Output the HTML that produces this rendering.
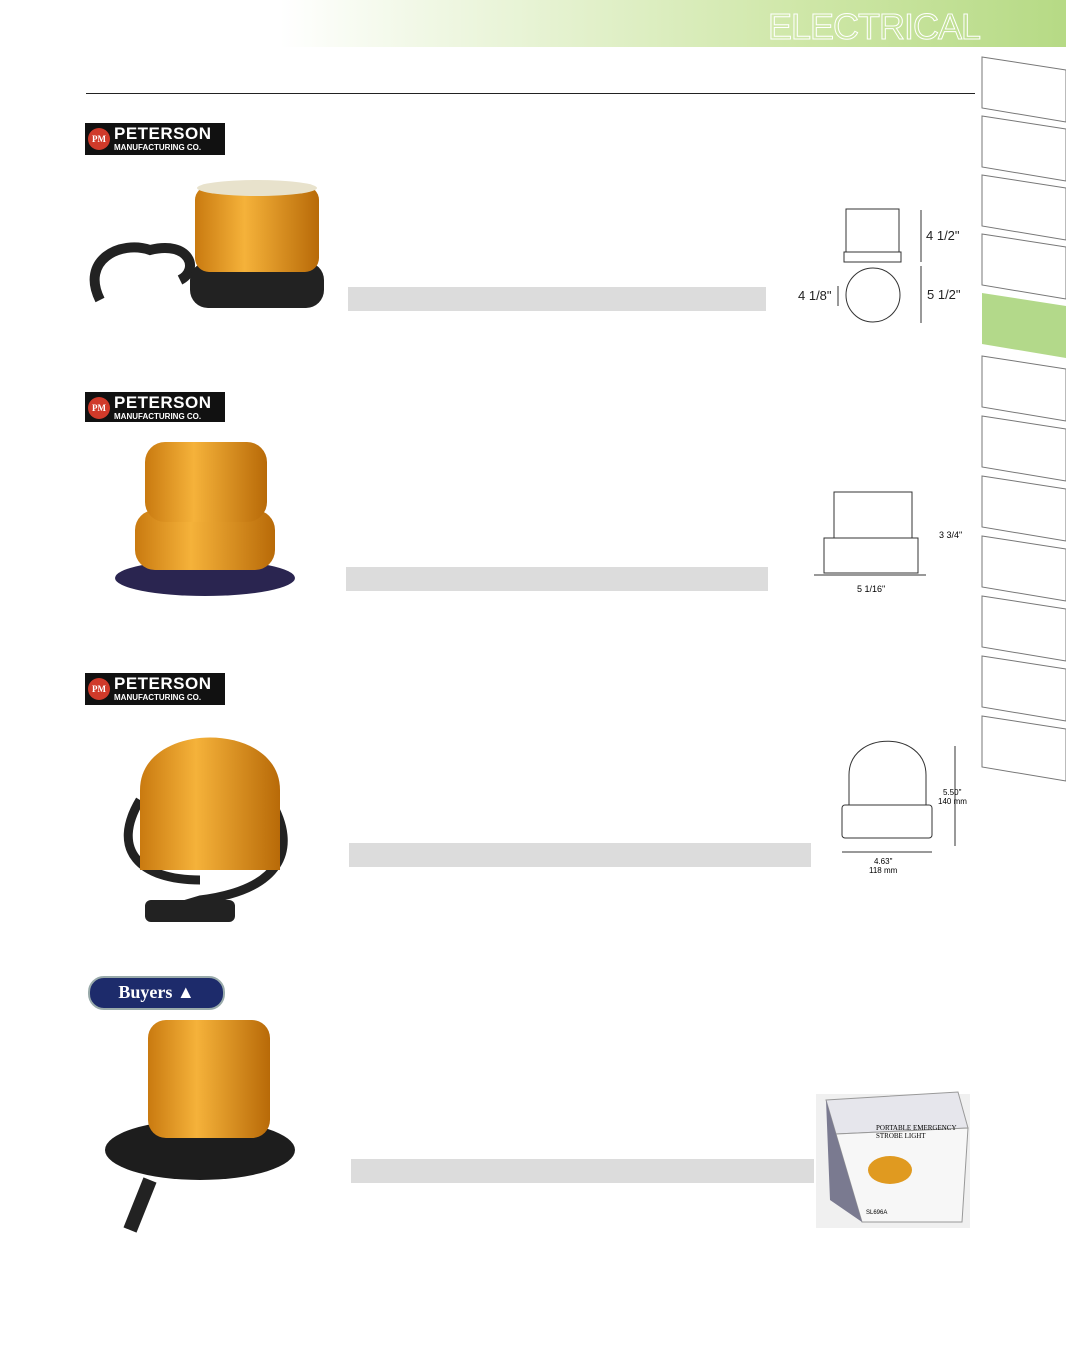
<!DOCTYPE html>
<html><head><meta charset="utf-8"><style>
html,body{margin:0;padding:0;background:#fff}
body{width:1066px;height:1366px;position:relative;overflow:hidden;font-family:"Liberation Sans",sans-serif}
.abs{position:absolute}
.bar{position:absolute;background:#dcdcdc;height:24px}
.logo{position:absolute;background:#111;width:140px;height:32px;color:#fff}
.logo .pm{position:absolute;left:3px;top:5px;width:22px;height:22px;border-radius:50%;background:#d03a2a;font:bold 9px "Liberation Serif",serif;line-height:22px;text-align:center;color:#fff}
.logo .t1{position:absolute;left:29px;top:1px;font:bold 17px "Liberation Sans",sans-serif;letter-spacing:.5px}
.logo .t2{position:absolute;left:29px;top:20px;font:bold 8px "Liberation Sans",sans-serif}
</style></head><body>
<div class="abs" style="left:0;top:0;width:1066px;height:47px;background:linear-gradient(90deg,#fff 0,#fff 280px,#f1f8e6 420px,#cfe7a8 800px,#b6da85 1066px)"></div>
<div class="abs" style="left:768px;top:6px;font:36px 'Liberation Sans',sans-serif;color:transparent;-webkit-text-stroke:1px #fff;letter-spacing:-1px">ELECTRICAL</div>
<div class="abs" style="left:86px;top:93px;width:889px;height:1px;background:#222"></div>
<svg class="abs" style="left:0;top:0" width="1066" height="1366">
<g fill="#fff" stroke="#777" stroke-width="1">
<polygon points="982,57 1066,70 1066,122 982,108"/>
<polygon points="982,116 1066,129 1066,181 982,167"/>
<polygon points="982,175 1066,188 1066,240 982,226"/>
<polygon points="982,234 1066,247 1066,299 982,285"/>
<polygon points="982,293 1066,306 1066,358 982,344" fill="#b3d98a" stroke="none"/>
<polygon points="982,356 1066,369 1066,421 982,407"/>
<polygon points="982,416 1066,429 1066,481 982,467"/>
<polygon points="982,476 1066,489 1066,541 982,527"/>
<polygon points="982,536 1066,549 1066,601 982,587"/>
<polygon points="982,596 1066,609 1066,661 982,647"/>
<polygon points="982,656 1066,669 1066,721 982,707"/>
<polygon points="982,716 1066,729 1066,781 982,767"/>
</g>
<defs>
<linearGradient id="am" x1="0" x2="1"><stop offset="0" stop-color="#c97a10"/><stop offset=".4" stop-color="#f5b23a"/><stop offset="1" stop-color="#b86a08"/></linearGradient>
</defs>
<!-- lamp 1 -->
<path d="M100,300 C80,260 120,240 150,250 C190,240 200,270 180,280" fill="none" stroke="#222" stroke-width="10"/>
<rect x="190" y="262" width="134" height="46" rx="18" fill="#222"/>
<rect x="195" y="186" width="124" height="86" rx="14" fill="url(#am)"/>
<ellipse cx="257" cy="188" rx="60" ry="8" fill="#e8e2cc"/>
<!-- lamp 2 -->
<ellipse cx="205" cy="578" rx="90" ry="18" fill="#2a2550"/>
<rect x="135" y="510" width="140" height="60" rx="20" fill="url(#am)"/>
<rect x="145" y="442" width="122" height="80" rx="20" fill="url(#am)"/>
<!-- lamp 3 -->
<path d="M140,800 C110,850 140,880 200,880 M270,800 C300,850 280,890 200,900 L150,915" fill="none" stroke="#222" stroke-width="9"/>
<path d="M140,870 L140,790 C140,720 280,720 280,790 L280,870 Z" fill="url(#am)"/>
<rect x="145" y="900" width="90" height="22" rx="6" fill="#222"/>
<!-- lamp 4 -->
<ellipse cx="200" cy="1150" rx="95" ry="30" fill="#1d1d1d"/>
<path d="M150,1180 L130,1230" stroke="#222" stroke-width="14"/>
<rect x="148" y="1020" width="122" height="118" rx="18" fill="url(#am)"/>
<!-- diagram 1 -->
<g stroke="#333" fill="none" stroke-width="1">
<rect x="846" y="209" width="53" height="43"/><rect x="844" y="252" width="57" height="10"/>
<circle cx="873" cy="295" r="27"/>
<line x1="921" y1="210" x2="921" y2="262"/><line x1="921" y1="266" x2="921" y2="323"/>
<line x1="838" y1="286" x2="838" y2="306"/>
</g>
<g font-family="Liberation Sans" font-size="13" fill="#222">
<text x="926" y="240">4 1/2"</text><text x="927" y="299">5 1/2"</text><text x="798" y="300">4 1/8"</text>
</g>
<!-- diagram 2 -->
<g stroke="#333" fill="none">
<rect x="834" y="492" width="78" height="46"/><rect x="824" y="538" width="94" height="35"/>
<line x1="814" y1="575" x2="926" y2="575"/>
</g>
<text x="939" y="538" font-size="9" font-family="Liberation Sans">3 3/4"</text>
<text x="857" y="592" font-size="9" font-family="Liberation Sans">5 1/16"</text>
<!-- diagram 3 -->
<g stroke="#333" fill="none">
<path d="M849,805 L849,775 C849,730 926,730 926,775 L926,805 Z"/>
<rect x="842" y="805" width="90" height="33" rx="3"/>
<line x1="955" y1="746" x2="955" y2="846"/><line x1="842" y1="852" x2="932" y2="852"/>
</g>
<text x="943" y="795" font-size="8" font-family="Liberation Sans">5.50"</text>
<text x="938" y="804" font-size="8" font-family="Liberation Sans">140 mm</text>
<text x="874" y="864" font-size="8" font-family="Liberation Sans">4.63"</text>
<text x="869" y="873" font-size="8" font-family="Liberation Sans">118 mm</text>
<!-- box -->
<rect x="816" y="1094" width="154" height="134" fill="#f0f0f0"/>
<polygon points="826,1100 958,1092 968,1128 836,1134" fill="#e6e6ec" stroke="#999"/>
<polygon points="836,1134 968,1128 962,1222 862,1222" fill="#f7f7f7" stroke="#999"/>
<polygon points="826,1100 836,1134 862,1222 830,1200" fill="#7a7a90"/>
<ellipse cx="890" cy="1170" rx="22" ry="14" fill="#e09a20"/>
<text x="876" y="1130" font-size="7" font-family="Liberation Serif">PORTABLE EMERGENCY</text>
<text x="876" y="1138" font-size="7" font-family="Liberation Serif">STROBE LIGHT</text>
<text x="866" y="1214" font-size="6" font-family="Liberation Sans">SL696A</text>
</svg>
<div class="logo" style="left:85px;top:123px"><div class="pm">PM</div><div class="t1">PETERSON</div><div class="t2">MANUFACTURING CO.</div></div>
<div class="logo" style="left:85px;top:392px;height:30px"><div class="pm">PM</div><div class="t1">PETERSON</div><div class="t2">MANUFACTURING CO.</div></div>
<div class="logo" style="left:85px;top:673px"><div class="pm">PM</div><div class="t1">PETERSON</div><div class="t2">MANUFACTURING CO.</div></div>
<div class="abs" style="left:88px;top:976px;width:133px;height:30px;border-radius:16px;background:#1d2b6b;border:2px solid #9aa;color:#fff;font:bold 18px 'Liberation Serif',serif;text-align:center;line-height:28px">Buyers ▲</div>
<div class="bar" style="left:348px;top:287px;width:418px"></div>
<div class="bar" style="left:346px;top:567px;width:422px"></div>
<div class="bar" style="left:349px;top:843px;width:462px"></div>
<div class="bar" style="left:351px;top:1159px;width:463px"></div>
</body></html>
